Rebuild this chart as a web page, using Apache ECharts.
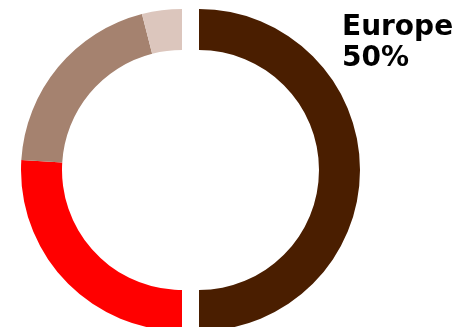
<!DOCTYPE html>
<html>
<head>
<meta charset="utf-8">
<script src="https://cdn.jsdelivr.net/npm/echarts@6/dist/echarts.min.js"></script>
<style>
  html, body { margin: 0; padding: 0; background: #ffffff; }
  #chart { width: 454px; height: 327px; }
</style>
</head>
<body>
<div id="chart"></div>
<script>
// Regional shares, clockwise from 12 o'clock
const regions = ['Europe', 'Americas', 'Asia', 'Other'];
const shares = [50, 26, 20, 4];
const colors = ['#4a1e00', '#ff0000', '#a5826f', '#dcc6bd'];
const highlighted = 'Europe';

const hi = regions.indexOf(highlighted);

const chart = echarts.init(document.getElementById('chart'), null, { renderer: 'canvas' });
chart.setOption({
  animation: false,
  title: {
    text: regions[hi] + '\n' + shares[hi] + '%',
    left: 337,
    top: 7,
    textStyle: {
      fontFamily: 'DejaVu Sans',
      fontWeight: 'bold',
      fontSize: 28,
      lineHeight: 31,
      color: '#000000'
    }
  },
  series: [{
    type: 'pie',
    center: [182, 170],
    radius: [120, 161],
    startAngle: 90,
    clockwise: true,
    selectedMode: 'single',
    selectedOffset: 17,
    label: { show: false },
    labelLine: { show: false },
    emphasis: { disabled: true },
    itemStyle: { borderWidth: 0 },
    data: regions.map((name, i) => ({
      name: name,
      value: shares[i],
      selected: i === hi,
      itemStyle: { color: colors[i] }
    }))
  }]
});
</script>
</body>
</html>
